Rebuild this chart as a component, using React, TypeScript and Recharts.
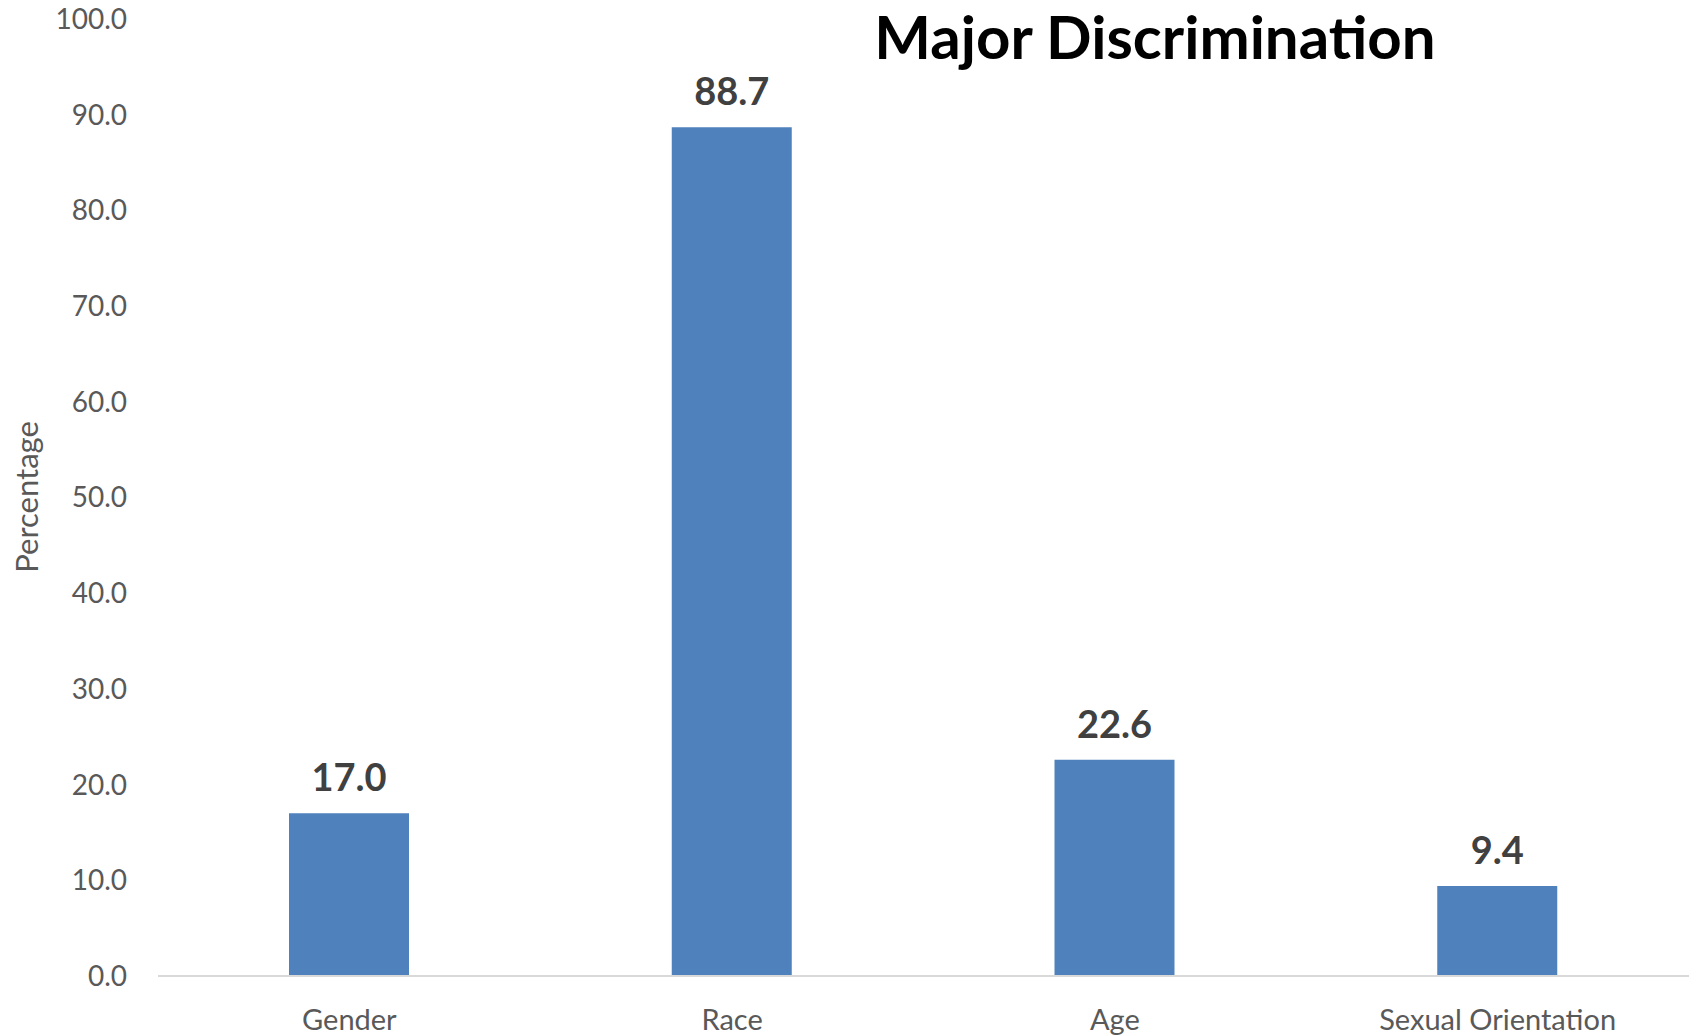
import React from 'react';
import { BarChart, Bar, XAxis, YAxis, LabelList } from 'recharts';

const categories = ['Gender', 'Race', 'Age', 'Sexual Orientation'];
const percentages = [17.0, 88.7, 22.6, 9.4];
const yTicks = [0, 10, 20, 30, 40, 50, 60, 70, 80, 90, 100];

const data = categories.map((name, i) => ({ name, value: percentages[i] }));

const FONT = 'Lato, "Open Sans", sans-serif';

const App: React.FC = () => {
  return (
    <div style={{ position: 'absolute', left: 0, top: 0, width: 1694, height: 1035, background: '#fff', fontFamily: FONT }}>
      <BarChart
        width={1694}
        height={1035}
        data={data}
        margin={{ top: 19, right: 5, left: 0, bottom: 0 }}
      >
        <XAxis
          dataKey="name"
          height={59}
          tickLine={false}
          tickSize={0}
          tickMargin={33}
          axisLine={{ stroke: '#d9d9d9', strokeWidth: 2 }}
          tick={{ fill: '#595959', fontSize: 29, fontFamily: FONT }}
        />
        <YAxis
          width={158}
          domain={[0, 100]}
          ticks={yTicks}
          interval={0}
          tickFormatter={(v: number) => v.toFixed(1)}
          tickLine={false}
          axisLine={false}
          tickSize={0}
          tickMargin={31}
          tick={{ fill: '#595959', fontSize: 28, fontFamily: FONT }}
          label={{
            value: 'Percentage',
            content: () => (
              <text
                x={26}
                y={497}
                transform="rotate(-90 26 497)"
                textAnchor="middle"
                dominantBaseline="central"
                fill="#595959"
                fontSize={31}
                fontFamily={FONT}
              >
                Percentage
              </text>
            ),
          }}
        />
        <Bar dataKey="value" fill="#4F81BD" barSize={120} isAnimationActive={false}>
          <LabelList
            dataKey="value"
            position="top"
            offset={22}
            formatter={(v: number) => v.toFixed(1)}
            style={{ fill: '#404040', fontSize: 38, fontWeight: 700, fontFamily: FONT }}
          />
        </Bar>
      </BarChart>
      <div
        style={{
          position: 'absolute',
          left: 1155,
          top: 0,
          transform: 'translateX(-50%)',
          fontSize: 60,
          fontWeight: 700,
          color: '#000',
          whiteSpace: 'nowrap',
          fontFamily: FONT,
        }}
      >
        Major Discrimination
      </div>
    </div>
  );
};

export default App;
